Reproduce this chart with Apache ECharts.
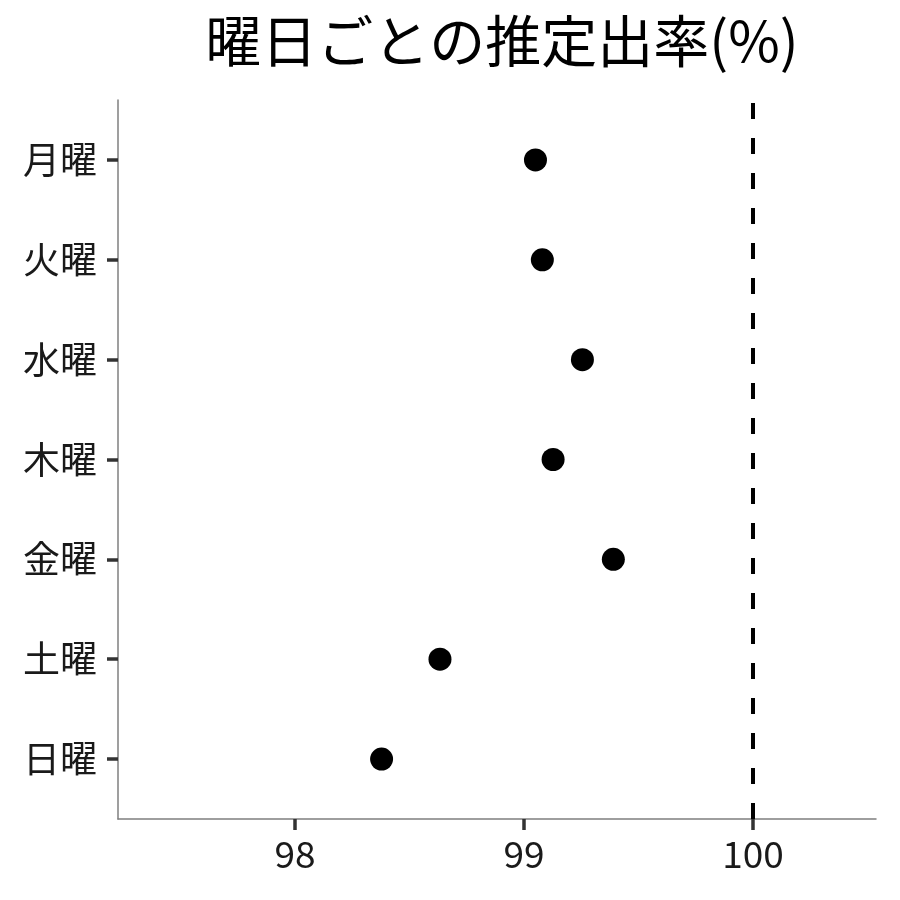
<!DOCTYPE html>
<html>
    <head>
        <meta charset="utf-8" />
        <script src="https://cdn.jsdelivr.net/npm/echarts@6/dist/echarts.min.js"></script>
        <style>
            html,
            body {
                margin: 0;
                padding: 0;
                background: #fff;
            }
            #main {
                width: 900px;
                height: 900px;
            }
        </style>
    </head>
    <body>
        <div id="main"></div>
        <script>
            // 曜日ごとの推定出率 (top to bottom)
            var days = ["月曜", "火曜", "水曜", "木曜", "金曜", "土曜", "日曜"];
            var rates = [99.05, 99.08, 99.255, 99.127, 99.39, 98.633, 98.378];
            var xTicks = [98, 99, 100];
            var refLine = 100;

            var FONT = "'Noto Sans CJK JP', 'Noto Sans', sans-serif";

            // y position: first day on top
            function dayPos(i) {
                return days.length - i;
            }

            var points = [];
            for (var i = 0; i < days.length; i++) {
                points.push([rates[i], dayPos(i)]);
            }
            var yTicks = [];
            for (var j = 0; j < days.length; j++) {
                yTicks.push(dayPos(j));
            }

            var chart = echarts.init(document.getElementById("main"), null, {
                renderer: "canvas",
            });

            chart.setOption({
                animation: false,
                backgroundColor: "#fff",
                title: {
                    text: "曜日ごとの推定出率(%)",
                    left: 497,
                    textAlign: "center",
                    top: 8,
                    textStyle: {
                        fontFamily: FONT,
                        fontSize: 56,
                        fontWeight: "normal",
                        color: "#000",
                    },
                },
                grid: {
                    left: 118,
                    right: 24,
                    top: 100,
                    bottom: 81,
                    containLabel: false,
                },
                xAxis: {
                    type: "value",
                    min: 97.227,
                    max: 100.537,
                    splitLine: { show: false },
                    axisLine: {
                        show: true,
                        onZero: false,
                        lineStyle: { color: "#7f7f7f", width: 1.5 },
                    },
                    axisTick: {
                        show: true,
                        customValues: xTicks,
                        length: 11,
                        lineStyle: { color: "#333", width: 3.5 },
                    },
                    axisLabel: {
                        customValues: xTicks,
                        margin: 16,
                        fontFamily: FONT,
                        fontSize: 37,
                        color: "#1a1a1a",
                    },
                },
                yAxis: {
                    type: "value",
                    min: 0.4,
                    max: 7.6,
                    splitLine: { show: false },
                    axisLine: {
                        show: true,
                        onZero: false,
                        lineStyle: { color: "#7f7f7f", width: 1.5 },
                    },
                    axisTick: {
                        show: true,
                        customValues: yTicks,
                        length: 11,
                        lineStyle: { color: "#333", width: 3.5 },
                    },
                    axisLabel: {
                        customValues: yTicks,
                        margin: 21,
                        fontFamily: FONT,
                        fontSize: 37,
                        color: "#1a1a1a",
                        formatter: function (v) {
                            return days[days.length - Math.round(v)];
                        },
                    },
                },
                series: [
                    {
                        type: "scatter",
                        data: points,
                        symbol: "circle",
                        symbolSize: 23,
                        itemStyle: { color: "#000", opacity: 1 },
                        markLine: {
                            silent: true,
                            symbol: "none",
                            label: { show: false },
                            lineStyle: {
                                color: "#000",
                                width: 4,
                                type: [16, 19],
                            },
                            data: [{ xAxis: refLine }],
                        },
                    },
                ],
            });
        </script>
    </body>
</html>
